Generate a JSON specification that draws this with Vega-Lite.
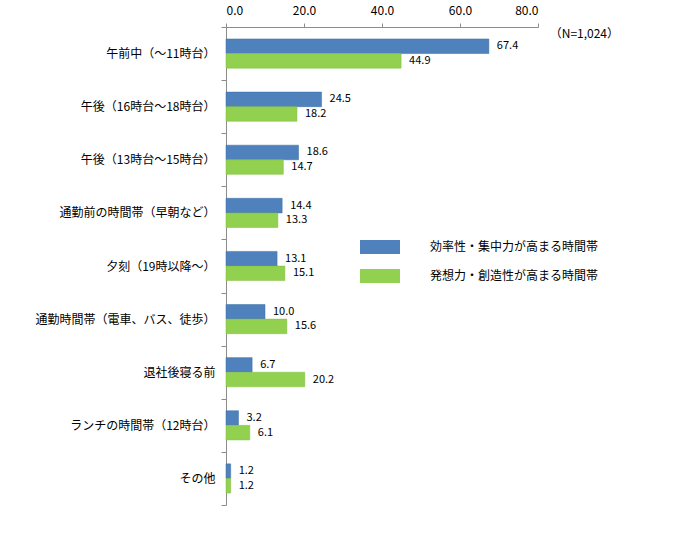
{
  "$schema": "https://vega.github.io/schema/vega-lite/v6.json",
  "autosize": {"type": "none"},
  "padding": {"left": 226, "top": 27, "right": 157, "bottom": 47},
  "width": 312,
  "height": 478,
  "background": "white",
  "data": {
    "values": [
      {"time": "午前中（～11時台）", "series": "効率性・集中力が高まる時間帯", "pct": 67.4},
      {"time": "午前中（～11時台）", "series": "発想力・創造性が高まる時間帯", "pct": 44.9},
      {"time": "午後（16時台～18時台）", "series": "効率性・集中力が高まる時間帯", "pct": 24.5},
      {"time": "午後（16時台～18時台）", "series": "発想力・創造性が高まる時間帯", "pct": 18.2},
      {"time": "午後（13時台～15時台）", "series": "効率性・集中力が高まる時間帯", "pct": 18.6},
      {"time": "午後（13時台～15時台）", "series": "発想力・創造性が高まる時間帯", "pct": 14.7},
      {"time": "通勤前の時間帯（早朝など）", "series": "効率性・集中力が高まる時間帯", "pct": 14.4},
      {"time": "通勤前の時間帯（早朝など）", "series": "発想力・創造性が高まる時間帯", "pct": 13.3},
      {"time": "夕刻（19時以降～）", "series": "効率性・集中力が高まる時間帯", "pct": 13.1},
      {"time": "夕刻（19時以降～）", "series": "発想力・創造性が高まる時間帯", "pct": 15.1},
      {"time": "通勤時間帯（電車、バス、徒歩）", "series": "効率性・集中力が高まる時間帯", "pct": 10.0},
      {"time": "通勤時間帯（電車、バス、徒歩）", "series": "発想力・創造性が高まる時間帯", "pct": 15.6},
      {"time": "退社後寝る前", "series": "効率性・集中力が高まる時間帯", "pct": 6.7},
      {"time": "退社後寝る前", "series": "発想力・創造性が高まる時間帯", "pct": 20.2},
      {"time": "ランチの時間帯（12時台）", "series": "効率性・集中力が高まる時間帯", "pct": 3.2},
      {"time": "ランチの時間帯（12時台）", "series": "発想力・創造性が高まる時間帯", "pct": 6.1},
      {"time": "その他", "series": "効率性・集中力が高まる時間帯", "pct": 1.2},
      {"time": "その他", "series": "発想力・創造性が高まる時間帯", "pct": 1.2}
    ]
  },
  "encoding": {
    "y": {
      "field": "time",
      "type": "nominal",
      "sort": null,
      "title": null,
      "scale": {"padding": 0},
      "axis": {
        "tickBand": "extent",
        "tickSize": 5,
        "labelPadding": 6,
        "labelFontSize": 12,
        "labelColor": "#000000",
        "domainColor": "#8c8c8c",
        "tickColor": "#8c8c8c",
        "labelLimit": 220
      }
    }
  },
  "layer": [
    {
      "mark": {"type": "bar", "strokeWidth": 0.5},
      "encoding": {
        "x": {
          "field": "pct",
          "type": "quantitative",
          "title": null,
          "scale": {"domain": [0, 80], "nice": false},
          "axis": {
            "orient": "top",
            "values": [0, 20, 40, 60, 80],
            "format": ".1f",
            "grid": false,
            "tickSize": 4,
            "labelPadding": 6,
            "labelFontSize": 12,
            "labelColor": "#000000",
            "domainColor": "#8c8c8c",
            "tickColor": "#8c8c8c"
          }
        },
        "yOffset": {
          "field": "series",
          "type": "nominal",
          "scale": {"paddingOuter": 0.82, "paddingInner": 0}
        },
        "color": {
          "field": "series",
          "type": "nominal",
          "scale": {
            "domain": ["効率性・集中力が高まる時間帯", "発想力・創造性が高まる時間帯"],
            "range": ["#4f81bd", "#92d050"]
          },
          "legend": {
            "title": null,
            "orient": "none",
            "legendX": 134,
            "legendY": 200,
            "symbolType": "M-1,-0.35H1V0.35H-1Z",
            "symbolSize": 1600,
            "symbolStrokeWidth": 0,
            "labelOffset": 30,
            "labelFontSize": 12,
            "labelColor": "#000000",
            "rowPadding": 2,
            "labelLimit": 300
          }
        },
        "stroke": {
          "field": "series",
          "type": "nominal",
          "scale": {"range": ["#3a6ea5", "#7fbf3f"]},
          "legend": null
        }
      }
    },
    {
      "mark": {"type": "text", "align": "left", "baseline": "middle", "dx": 8, "fontSize": 11, "color": "#000000"},
      "encoding": {
        "x": {"field": "pct", "type": "quantitative"},
        "yOffset": {
          "field": "series",
          "type": "nominal",
          "scale": {"paddingOuter": 0.82, "paddingInner": 0}
        },
        "text": {"field": "pct", "type": "quantitative", "format": ".1f"}
      }
    },
    {
      "data": {"values": [{"label": "（N=1,024）", "x": 83, "time": "午前中（～11時台）"}]},
      "mark": {"type": "text", "align": "left", "baseline": "middle", "dy": -20, "fontSize": 12, "color": "#000000"},
      "encoding": {
        "x": {"field": "x", "type": "quantitative"},
        "y": {"field": "time", "type": "nominal", "sort": null},
        "text": {"field": "label"}
      }
    }
  ],
  "config": {
    "font": "Noto Sans CJK JP",
    "view": {"stroke": null},
    "axis": {"labelFont": "Noto Sans CJK JP"},
    "legend": {"labelFont": "Noto Sans CJK JP"}
  }
}
